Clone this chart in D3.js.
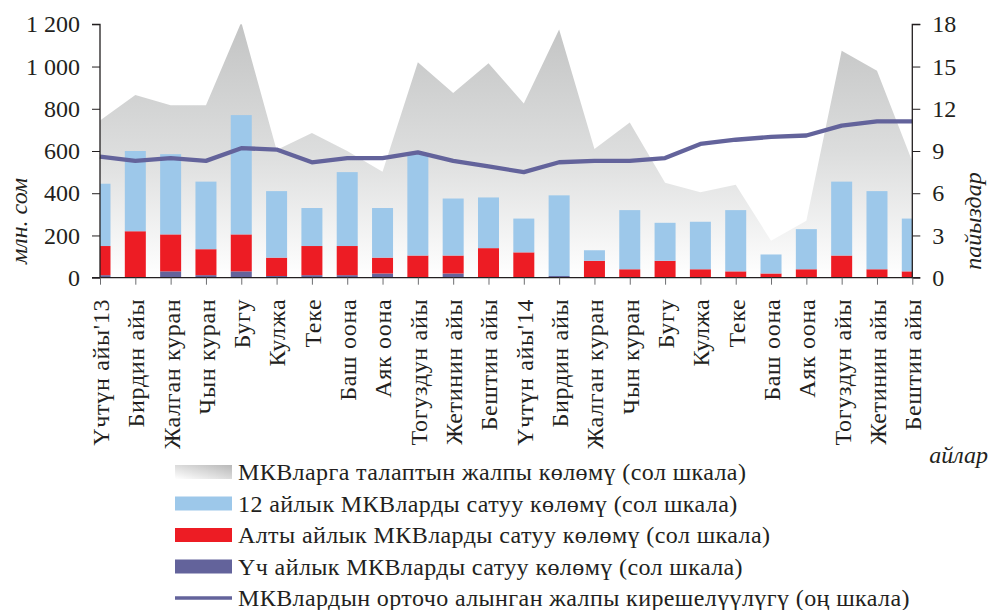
<!DOCTYPE html>
<html>
<head>
<meta charset="utf-8">
<script src="https://cdn.jsdelivr.net/npm/d3@7"></script>
<style>
    body { margin: 0; background: #fff; }
    svg text { font-family: "Liberation Serif", "DejaVu Serif", serif; fill: #231f20; }
</style>
</head>
<body>
<div id="chartContainer"></div>
<script>
var months = ["Үчтүн айы'13", "Бирдин айы", "Жалган куран", "Чын куран", "Бугу", "Кулжа", "Теке",
    "Баш оона", "Аяк оона", "Тогуздун айы", "Жетинин айы", "Бештин айы", "Үчтүн айы'14",
    "Бирдин айы", "Жалган куран", "Чын куран", "Бугу", "Кулжа", "Теке", "Баш оона",
    "Аяк оона", "Тогуздун айы", "Жетинин айы", "Бештин айы"];

// млн. сом
var demand = [745, 865, 817, 817, 1210, 605, 685, 600, 502, 1020, 875, 1015,
    825, 1175, 610, 735, 450, 405, 440, 175, 270, 1075, 980, 550];
var sales12 = [295, 380, 380, 320, 565, 315, 180, 350, 235, 485, 270, 240,
    160, 382, 50, 280, 180, 225, 290, 90, 190, 350, 370, 250];
var sales6 = [138, 217, 175, 123, 175, 87, 138, 138, 75, 105, 85, 137,
    120, 0, 80, 40, 80, 40, 30, 20, 37, 105, 40, 30];
var sales3 = [12, 3, 30, 12, 30, 8, 12, 12, 20, 0, 20, 3,
    0, 8, 0, 0, 0, 0, 0, 0, 3, 0, 0, 0];
// пайыздар
var yieldPct = [8.6, 8.3, 8.5, 8.3, 9.2, 9.1, 8.2, 8.5, 8.5, 8.9, 8.3, 7.9,
    7.5, 8.2, 8.3, 8.3, 8.5, 9.5, 9.8, 10.0, 10.1, 10.8, 11.1, 11.1];

var leftTicks = [0, 200, 400, 600, 800, 1000, 1200];
var rightTicks = [0, 3, 6, 9, 12, 15, 18];

var legendItems = [
    "МКВларга талаптын жалпы көлөмү (сол шкала)",
    "12 айлык МКВларды сатуу көлөмү (сол шкала)",
    "Алты айлык МКВларды сатуу көлөмү (сол шкала)",
    "Үч айлык МКВларды сатуу көлөмү (сол шкала)",
    "МКВлардын орточо алынган жалпы кирешелүүлүгү (оң шкала)"
];

var colors = { blue: "#9dc8ea", red: "#ed1c24", purple: "#63639b" };

var width = 988, height = 610;
var margin = { top: 24.3, right: 75.7, bottom: 332.3, left: 100 };
var plotW = width - margin.left - margin.right;
var plotH = height - margin.top - margin.bottom;

var svg = d3.select("#chartContainer")
    .append("svg")
    .attr("width", width)
    .attr("height", height);

var defs = svg.append("defs");
var grad = defs.append("linearGradient")
    .attr("id", "areaGrad")
    .attr("gradientUnits", "userSpaceOnUse")
    .attr("x1", 0).attr("y1", 0).attr("x2", 0).attr("y2", plotH);
grad.append("stop").attr("offset", 0).attr("stop-color", "#c3c4c4");
grad.append("stop").attr("offset", 0.5).attr("stop-color", "#dcdddd");
grad.append("stop").attr("offset", 1).attr("stop-color", "#ffffff");

var legGrad = defs.append("linearGradient")
    .attr("id", "legGrad")
    .attr("x1", 1).attr("y1", 0).attr("x2", 0).attr("y2", 1);
legGrad.append("stop").attr("offset", 0).attr("stop-color", "#b8b8b8");
legGrad.append("stop").attr("offset", 1).attr("stop-color", "#ffffff");

defs.append("clipPath").attr("id", "plotClip")
    .append("rect").attr("width", plotW).attr("height", plotH + 1);

var g = svg.append("g")
    .attr("transform", "translate(" + margin.left + "," + margin.top + ")");

// set the ranges
var x = d3.scalePoint().domain(d3.range(months.length)).range([0, plotW]);
var y = d3.scaleLinear().domain([0, 1200]).range([plotH, 0]);
var y2 = d3.scaleLinear().domain([0, 18]).range([plotH, 0]);
var barW = 21;

var plot = g.append("g").attr("clip-path", "url(#plotClip)");

// demand area
var area = d3.area()
    .x(function (d, i) { return x(i); })
    .y0(plotH)
    .y1(function (d) { return y(d); });
plot.append("path")
    .datum(demand)
    .attr("fill", "url(#areaGrad)")
    .attr("d", area);

// stacked bars: 3-month at the bottom, then 6-month, then 12-month
var stacks = [
    { values: sales3, color: colors.purple },
    { values: sales6, color: colors.red },
    { values: sales12, color: colors.blue }
];
var base = months.map(function () { return 0; });
stacks.forEach(function (s) {
    var start = base.slice();
    plot.append("g").selectAll("rect")
        .data(s.values)
        .enter().append("rect")
        .attr("x", function (d, i) { return x(i) - barW / 2; })
        .attr("width", barW)
        .attr("y", function (d, i) { return y(start[i] + d); })
        .attr("height", function (d) { return plotH - y(d); })
        .attr("fill", s.color);
    s.values.forEach(function (v, i) { base[i] += v; });
});

// yield line
var valueline = d3.line()
    .x(function (d, i) { return x(i); })
    .y(function (d) { return y2(d); });
g.append("path")
    .datum(yieldPct)
    .attr("fill", "none")
    .attr("stroke", colors.purple)
    .attr("stroke-width", 4.3)
    .attr("stroke-linejoin", "round")
    .attr("d", valueline);

var fmt = d3.formatLocale({ decimal: ",", thousands: " ", grouping: [3], currency: ["", ""] }).format(",d");

// Add the Y Axes
var yAxis = g.append("g")
    .call(d3.axisLeft(y).tickValues(leftTicks).tickSize(8).tickPadding(12).tickFormat(fmt));
var y2Axis = g.append("g")
    .attr("transform", "translate(" + plotW + ",0)")
    .call(d3.axisRight(y2).tickValues(rightTicks).tickSize(8).tickPadding(12));

// Add the X Axis
var xAxis = g.append("g")
    .attr("transform", "translate(0," + plotH + ")")
    .call(d3.axisBottom(x).tickSize(7).tickFormat(function (i) { return months[i]; }));
xAxis.selectAll(".tick line").attr("stroke", "#6d6e71");

[yAxis, y2Axis, xAxis].forEach(function (a) {
    a.select(".domain").attr("stroke", "#231f20").attr("stroke-width", 1.3);
    a.selectAll("text").attr("font-size", 24).attr("font-family", null).attr("fill", "#231f20");
});
xAxis.selectAll("text")
    .attr("transform", "rotate(-90)")
    .attr("text-anchor", "end")
    .attr("x", -21)
    .attr("y", 0)
    .attr("dy", "0.35em")
    .attr("letter-spacing", 0.7);
yAxis.selectAll(".tick line").attr("stroke", "#231f20");
y2Axis.selectAll(".tick line").attr("stroke", "#231f20");
xAxis.select(".domain").attr("d", "M0,0H" + plotW);
yAxis.select(".domain").attr("d", "M-8," + plotH + "H0V0H-8");
y2Axis.select(".domain").attr("d", "M8," + plotH + "H0V0H8");

// axis titles
svg.append("text")
    .attr("transform", "translate(27,221) rotate(-90)")
    .attr("text-anchor", "middle")
    .attr("font-size", 24)
    .attr("font-style", "italic")
    .text("млн. сом");
svg.append("text")
    .attr("transform", "translate(981,221) rotate(-90)")
    .attr("text-anchor", "middle")
    .attr("font-size", 24)
    .attr("font-style", "italic")
    .text("пайыздар");
svg.append("text")
    .attr("x", 988)
    .attr("y", 463)
    .attr("text-anchor", "end")
    .attr("font-size", 24)
    .attr("font-style", "italic")
    .text("айлар");

// legend
var legendFills = ["url(#legGrad)", colors.blue, colors.red, colors.purple, null];
var legend = svg.append("g").attr("transform", "translate(175,472)");
legendItems.forEach(function (t, i) {
    var row = legend.append("g").attr("transform", "translate(0," + (i * 31.5) + ")");
    if (legendFills[i]) {
        row.append("rect")
            .attr("x", 0).attr("y", -7)
            .attr("width", 57).attr("height", 14)
            .attr("fill", legendFills[i]);
    } else {
        row.append("line")
            .attr("x1", 0).attr("x2", 57)
            .attr("stroke", colors.purple)
            .attr("stroke-width", 3.5);
    }
    row.append("text")
        .attr("x", 63)
        .attr("dy", "0.35em")
        .attr("font-size", 24)
        .attr("letter-spacing", 0.4)
        .text(t);
});
</script>
</body>
</html>
